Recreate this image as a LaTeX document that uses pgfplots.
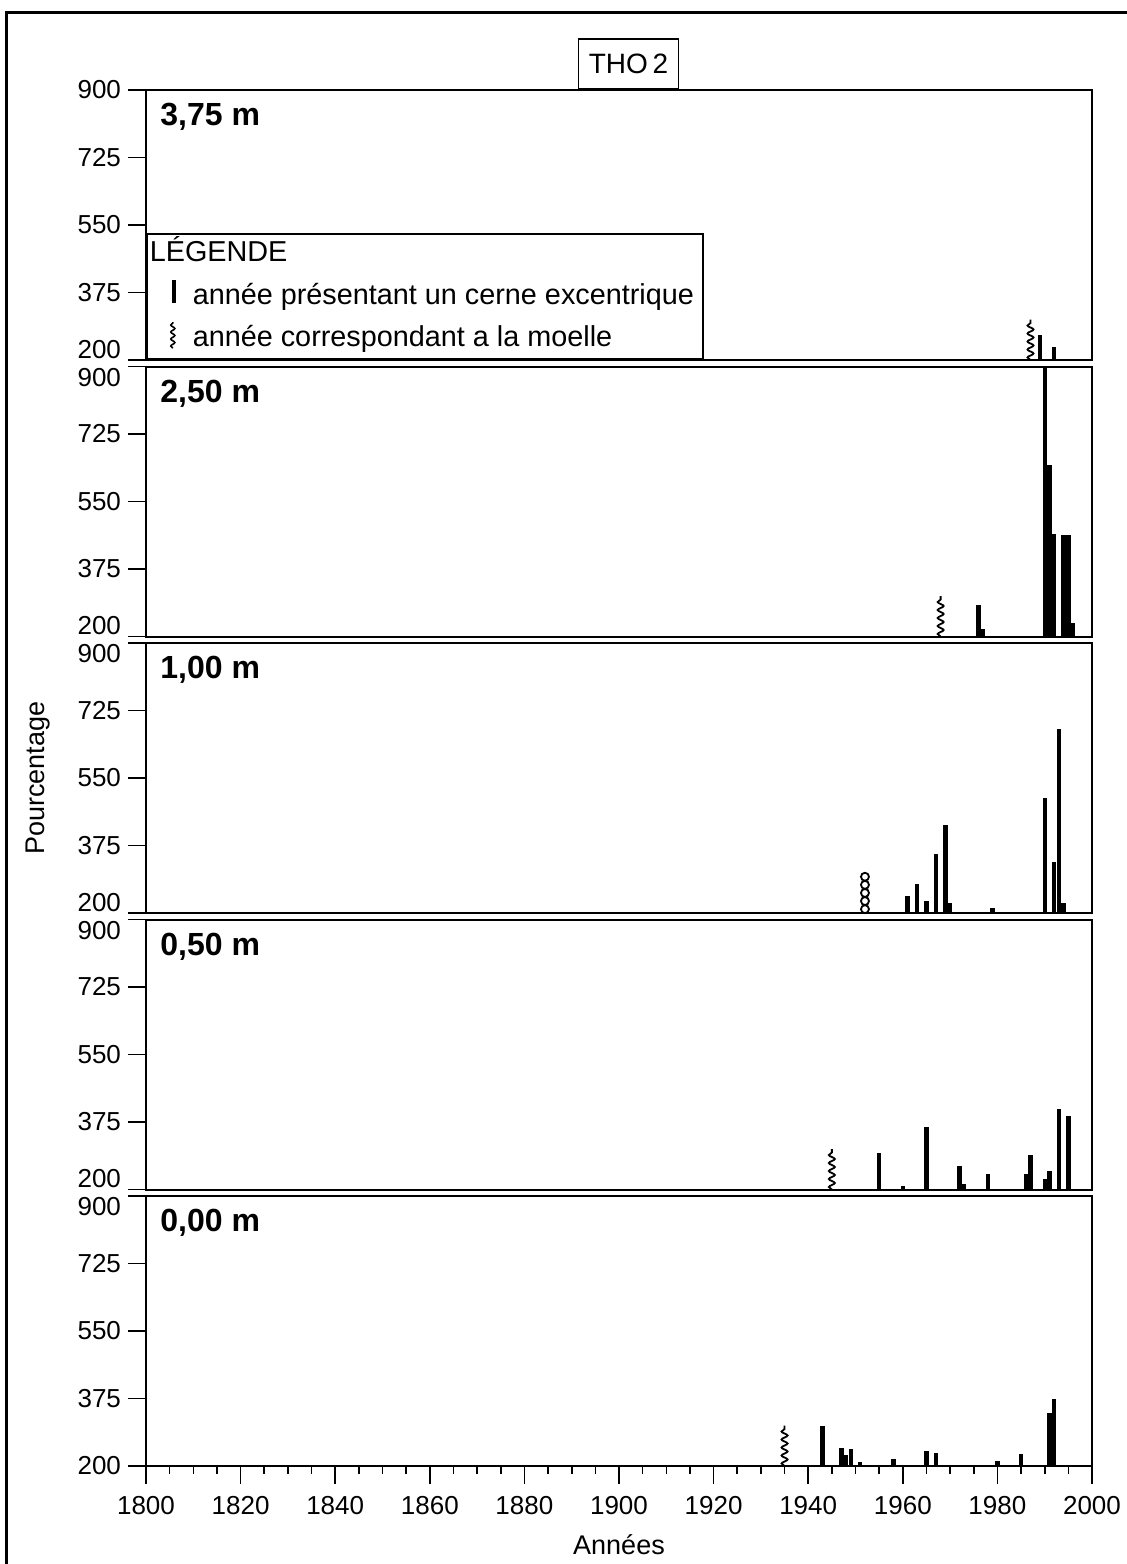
\documentclass[border=0pt]{standalone}
\usepackage{fontspec}
\setmainfont{Liberation Sans}
\usepackage{pgfplots}
\pgfplotsset{compat=1.18}
\usetikzlibrary{decorations.pathmorphing}

\pgfplotsset{
  panel/.style={
    width=473pt, height=135pt, scale only axis,
    xmin=1800, xmax=2000, ymin=200, ymax=900,
    axis line style={line width=1pt},
    tick align=outside, tick pos=left,
    major tick length=9pt, minor tick length=4pt,
    every tick/.style={black, line width=0.8pt},
    xtick=\empty,
    ytick={375,550,725},
    /pgf/number format/assume math mode=true,
    tick label style={font=\fontsize{13}{15}\selectfont},
  },
  bars/.style={ycomb, black, line width=2.2pt, mark=none},
  pith/.style={black, line width=0.9pt, mark=none, decorate,
    decoration={snake, segment length=4pt, amplitude=1.5pt}},
}
\tikzset{
  plab/.style={anchor=north west, inner sep=0pt, xshift=7pt, yshift=-6.5pt,
    font=\bfseries\fontsize{16}{18}\selectfont},
}

\begin{document}
\begin{tikzpicture}
\useasboundingbox (0,0) rectangle (563pt,-782pt);
\draw[line width=1.5pt] (3.2pt,-790pt) -- (3.2pt,-6pt) -- (570pt,-6pt);

% ---- 3,75 m ----
\begin{axis}[panel, at={(73pt,-45pt)}, anchor=north west,
  ytick={375,550,725,900},
  extra y ticks={200},
  extra y tick labels={\raisebox{1pt}[0pt][0pt]{200}},
  title={THO\,2},
  every axis title/.style={at={(rel axis cs:0.51,1)}, anchor=south, draw, line width=0.8pt,
    font=\fontsize{14}{16}\selectfont, minimum width=50pt, minimum height=25pt, inner sep=0pt},
  legend style={at={(rel axis cs:0,0)}, anchor=south west, draw=black, line width=0.8pt,
    fill=white, font=\fontsize{14.4}{16}\selectfont, inner xsep=3pt, inner ysep=2pt,
    row sep=4pt, column sep=2pt,
    nodes={inner sep=1.5pt, text height=10pt, text depth=3pt}},
  legend cell align=left,
]
\addlegendimage{empty legend}
\addlegendentry{\hspace*{-21.5pt}LÉGENDE}
\addlegendimage{legend image code/.code={\path[draw=none] (0,0) -- (16.5pt,0);
  \draw[line width=2.2pt] (10.5pt,-3pt) -- (10.5pt,8.5pt);}}
\addlegendentry{année présentant un cerne excentrique}
\addlegendimage{legend image code/.code={\path[draw=none] (0,0) -- (16.5pt,0);
  \draw[line width=0.8pt, decorate, decoration={snake, segment length=3.5pt, amplitude=1pt}]
  (10pt,-4.5pt) -- (10pt,8.5pt);}}
\addlegendentry{année correspondant a la moelle}
\addplot[pith] coordinates {(1987,200) (1987,305)};
\addplot[bars] coordinates {(1989,264) (1992,233)};
\node[plab] at (rel axis cs:0,1) {3,75 m};
\end{axis}

% ---- 2,50 m ----
\begin{axis}[panel, at={(73pt,-183.25pt)}, anchor=north west,
  extra y ticks={200,900},
  extra y tick labels={\raisebox{1pt}[0pt][0pt]{200},\raisebox{-9.8pt}[0pt][0pt]{900}},
]
\addplot[pith] coordinates {(1968,200) (1968,305)};
\addplot[bars] coordinates {(1976,282) (1977,219) (1990,900) (1991,645) (1992,465)
  (1994,462) (1995,462) (1996,236)};
\node[plab] at (rel axis cs:0,1) {2,50 m};
\end{axis}

% ---- 1,00 m ----
\begin{axis}[panel, at={(73pt,-321.5pt)}, anchor=north west,
  extra y ticks={200,900},
  extra y tick labels={\raisebox{1pt}[0pt][0pt]{200},\raisebox{-9.8pt}[0pt][0pt]{900}},
  ylabel={Pourcentage},
  ylabel style={at={(axis description cs:-0.114,0.5)}, anchor=center,
    font=\fontsize{13.5}{16}\selectfont},
]
\addplot[only marks, mark=o, mark size=2pt, mark options={line width=0.9pt, black}]
  coordinates {(1952,210) (1952,231) (1952,252) (1952,273) (1952,294)};
\addplot[bars] coordinates {(1961,244) (1963,275) (1965,231) (1967,352) (1969,427)
  (1970,226) (1979,213) (1990,497) (1992,332) (1993,677) (1994,226)};
\node[plab] at (rel axis cs:0,1) {1,00 m};
\end{axis}

% ---- 0,50 m ----
\begin{axis}[panel, at={(73pt,-459.75pt)}, anchor=north west,
  extra y ticks={200,900},
  extra y tick labels={\raisebox{1pt}[0pt][0pt]{200},\raisebox{-9.8pt}[0pt][0pt]{900}},
]
\addplot[pith] coordinates {(1945,200) (1945,305)};
\addplot[bars] coordinates {(1955,295) (1960,210) (1965,362) (1972,260) (1973,213)
  (1978,239) (1986,241) (1987,290) (1990,226) (1991,247) (1993,408) (1995,390)};
\node[plab] at (rel axis cs:0,1) {0,50 m};
\end{axis}

% ---- 0,00 m ----
\begin{axis}[panel, at={(73pt,-598pt)}, anchor=north west,
  ytick={200,375,550,725},
  extra y ticks={900},
  extra y tick labels={\raisebox{-9.8pt}[0pt][0pt]{900}},
  xtick={1800,1820,...,2000},
  minor x tick num=3,
  xticklabel style={/pgf/number format/1000 sep={}, yshift=-2.5pt},
  xlabel={Années},
  xlabel style={at={(axis description cs:0.5,-0.293)}, anchor=center,
    font=\fontsize{13.5}{16}\selectfont},
]
\addplot[pith] coordinates {(1935,200) (1935,305)};
\addplot[bars] coordinates {(1943,304) (1947,246) (1948,228) (1949,244) (1951,210)
  (1958,218) (1965,240) (1967,234) (1980,213) (1985,231) (1991,338) (1992,374)};
\node[plab] at (rel axis cs:0,1) {0,00 m};
\end{axis}
\end{tikzpicture}
\end{document}
